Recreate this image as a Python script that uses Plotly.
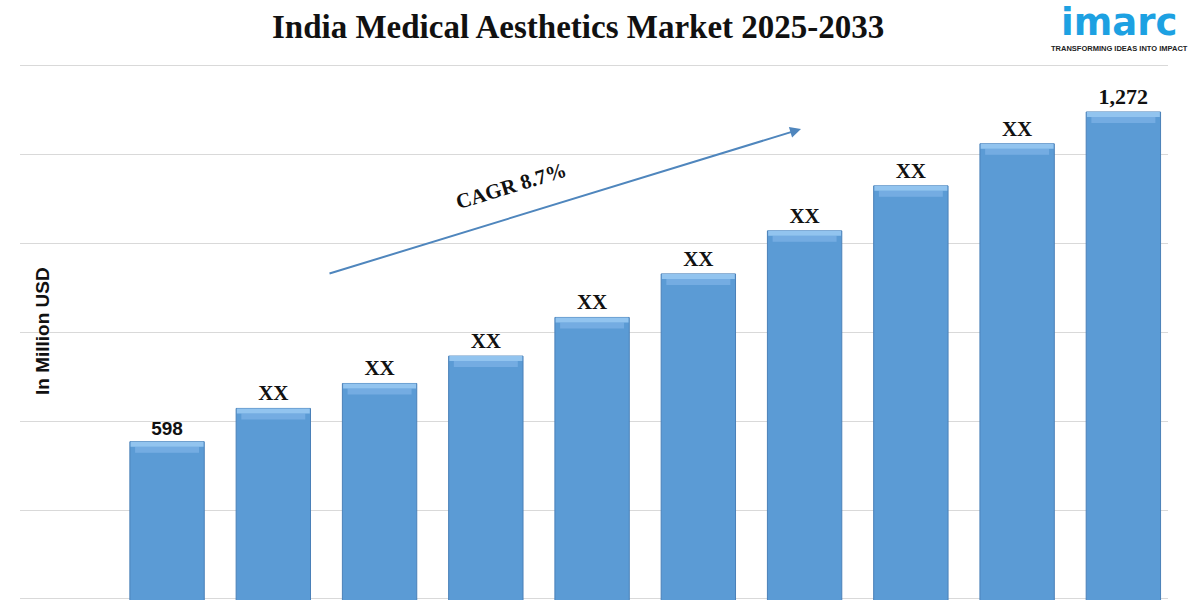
import plotly.graph_objects as go

years = [2024, 2025, 2026, 2027, 2028, 2029, 2030, 2031, 2032, 2033]
values = [598, 666, 717, 773, 852, 941, 1029, 1121, 1207, 1272]
labels = ["598", "XX", "XX", "XX", "XX", "XX", "XX", "XX", "XX", "1,272"]
label_fonts = ["Liberation Sans", "Liberation Serif", "Liberation Serif", "Liberation Serif",
               "Liberation Serif", "Liberation Serif", "Liberation Serif", "Liberation Serif",
               "Liberation Serif", "Liberation Serif"]
label_sizes = [19, 21, 21, 21, 21, 21, 21, 21, 21, 22]

title_text = "India Medical Aesthetics Market 2025-2033"
y_title = "In Million USD"
cagr_text = "CAGR 8.7%"
logo_text = "imarc"
logo_tag = "TRANSFORMING IDEAS INTO IMPACT"

W, H = 1200, 600
ML, MR = 20, 32
y_range = [274.4, 1500.9]
px_per_unit = H / (y_range[1] - y_range[0])

def paper_x(px):
    return (px - ML) / (W - ML - MR)

def paper_y(py):
    return 1 - py / H

bar_w = 0.70
band1 = 5 / px_per_unit
band2 = 6 / px_per_unit

fig = go.Figure()
fig.add_trace(go.Bar(
    x=years, y=values, width=bar_w,
    marker=dict(color="#5B9BD5", line=dict(color="#4A80B8", width=1)),
    text=["<b>" + t + "</b>" for t in labels], textposition="outside", cliponaxis=False,
    textfont=dict(family=label_fonts, size=label_sizes, color="#111111"),
    hoverinfo="skip",
))
# bevel highlight at the top of each bar
fig.add_trace(go.Bar(
    x=years, y=[band2] * len(values), base=[v - band1 - band2 for v in values],
    width=bar_w * 0.86, marker=dict(color="#74ACE2", line=dict(width=0)),
    hoverinfo="skip",
))
fig.add_trace(go.Bar(
    x=years, y=[band1] * len(values), base=[v - band1 for v in values],
    width=bar_w * 0.98, marker=dict(color="#92C4EF", line=dict(width=0)),
    hoverinfo="skip",
))

fig.update_layout(
    width=W, height=H,
    margin=dict(l=ML, r=MR, t=0, b=0),
    paper_bgcolor="white", plot_bgcolor="white",
    barmode="overlay", showlegend=False,
    xaxis=dict(range=[2022.616, 2033.42], showgrid=False, showticklabels=False,
               zeroline=False, showline=False, ticks=""),
    yaxis=dict(range=y_range, showgrid=True, gridcolor="#D9D9D9", gridwidth=1,
               tickmode="linear", tick0=458.3, dtick=181.6,
               showticklabels=False, zeroline=False, showline=False, ticks=""),
    annotations=[
        dict(text="<b>" + title_text + "</b>", xref="paper", yref="paper",
             x=paper_x(578), y=paper_y(27), xanchor="center", yanchor="middle",
             showarrow=False, font=dict(family="Liberation Serif", size=33, color="#111111")),
        dict(text="<b>" + y_title + "</b>", xref="paper", yref="paper",
             x=paper_x(42), y=paper_y(331), xanchor="center", yanchor="middle",
             textangle=-90, showarrow=False,
             font=dict(family="Liberation Sans", size=19, color="#111111")),
        dict(text="", xref="x domain", yref="y domain", axref="x domain", ayref="y domain",
             x=paper_x(801), y=paper_y(129), ax=paper_x(328), ay=paper_y(274),
             showarrow=True, arrowhead=2, arrowsize=1.1, arrowwidth=2,
             arrowcolor="#4F86BD"),
        dict(text="<b>" + cagr_text + "</b>", xref="paper", yref="paper",
             x=paper_x(511), y=paper_y(186), xanchor="center", yanchor="middle",
             textangle=-17, showarrow=False,
             font=dict(family="Liberation Serif", size=21, color="#111111")),
        dict(text="<b>" + logo_text + "</b>", xref="paper", yref="paper",
             x=paper_x(1119), y=1, xanchor="center", yanchor="top", borderpad=0,
             showarrow=False, font=dict(family="DejaVu Sans", size=37, color="#1DA1E2")),
        dict(text="<b>" + logo_tag + "</b>", xref="paper", yref="paper",
             x=paper_x(1119), y=paper_y(48.5), xanchor="center", yanchor="middle",
             borderpad=0, showarrow=False,
             font=dict(family="Liberation Sans", size=7.5, color="#222222")),
    ],
)

fig.write_html("out.html", config={"displayModeBar": False},
               post_script="document.body.style.margin='0';")
